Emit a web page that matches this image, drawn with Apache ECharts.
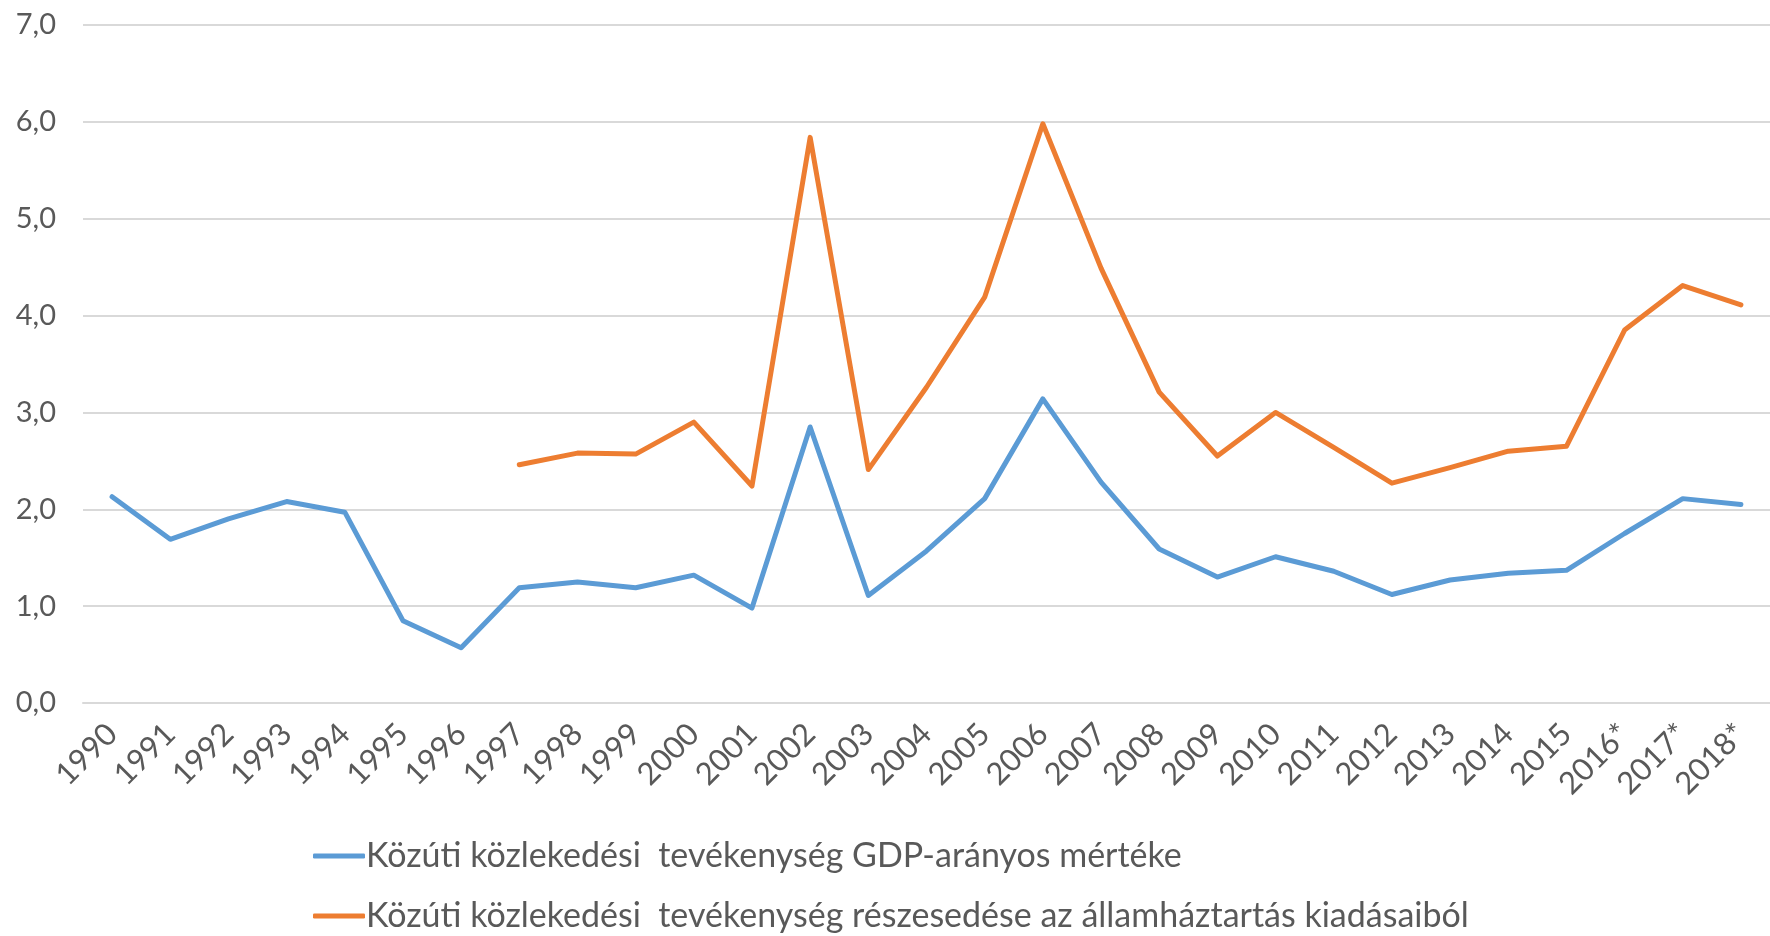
<!DOCTYPE html>
<html>
<head>
<meta charset="utf-8">
<script src="https://cdn.jsdelivr.net/npm/echarts@6/dist/echarts.min.js"></script>
<style>
  html, body { margin: 0; padding: 0; background: #fff; }
  #chart { width: 1770px; height: 936px; }
</style>
</head>
<body>
<div id="chart"></div>
<script>
// categories (years), * = estimate
var years = ['1990', '1991', '1992', '1993', '1994', '1995', '1996', '1997', '1998', '1999',
  '2000', '2001', '2002', '2003', '2004', '2005', '2006', '2007', '2008', '2009',
  '2010', '2011', '2012', '2013', '2014', '2015', '2016*', '2017*', '2018*'];

// GDP-arányos mérték
var gdpShare = [2.13, 1.69, 1.90, 2.08, 1.97, 0.85, 0.57, 1.19, 1.25, 1.19,
  1.32, 0.98, 2.85, 1.11, 1.57, 2.11, 3.14, 2.28, 1.59, 1.30,
  1.51, 1.36, 1.12, 1.27, 1.34, 1.37, 1.75, 2.11, 2.05];

// részesedés az államháztartás kiadásaiból (1997-től)
var budgetShare = [null, null, null, null, null, null, null, 2.46, 2.58, 2.57,
  2.90, 2.24, 5.84, 2.41, 3.26, 4.19, 5.98, 4.49, 3.21, 2.55,
  3.00, 2.64, 2.27, 2.43, 2.60, 2.65, 3.85, 4.31, 4.11];

var seriesNames = [
  'Közúti közlekedési  tevékenység GDP-arányos mértéke',
  'Közúti közlekedési  tevékenység részesedése az államháztartás kiadásaiból'
];

var font = 'Lato, "Open Sans", sans-serif';
var textColor = '#595959';

function legendFor(name, top) {
  return {
    left: 308,
    top: top,
    itemWidth: 52,
    itemHeight: 5,
    icon: 'roundRect',
    textStyle: { fontFamily: font, fontSize: 34, color: textColor, padding: [0, 0, 0, -4] },
    data: [name]
  };
}

var chart = echarts.init(document.getElementById('chart'));
chart.setOption({
  animation: false,
  backgroundColor: '#fff',
  textStyle: { fontFamily: font },
  grid: { left: 83, right: -10, top: 25, bottom: 233, containLabel: false },
  legend: [
    legendFor(seriesNames[0], 834),
    legendFor(seriesNames[1], 894)
  ],
  xAxis: {
    type: 'category',
    data: years,
    boundaryGap: true,
    axisLine: { show: true, lineStyle: { color: '#d9d9d9', width: 2 } },
    axisTick: { show: false },
    axisLabel: {
      rotate: 45,
      margin: 26,
      interval: 0,
      fontFamily: font,
      fontSize: 31,
      color: textColor
    }
  },
  yAxis: {
    type: 'value',
    min: 0,
    max: 7,
    interval: 1,
    axisLine: { show: false },
    axisTick: { show: false },
    splitLine: { lineStyle: { color: '#d9d9d9', width: 2 } },
    axisLabel: {
      margin: 27,
      fontFamily: font,
      fontSize: 29,
      color: textColor,
      formatter: function (v) { return v.toFixed(1).replace('.', ','); }
    }
  },
  series: [
    {
      name: seriesNames[0],
      type: 'line',
      data: gdpShare,
      symbol: 'none',
      color: '#5b9bd5',
      lineStyle: { width: 5, color: '#5b9bd5', cap: 'round', join: 'round' }
    },
    {
      name: seriesNames[1],
      type: 'line',
      data: budgetShare,
      symbol: 'none',
      color: '#ed7d31',
      lineStyle: { width: 5, color: '#ed7d31', cap: 'round', join: 'round' }
    }
  ]
});
</script>
</body>
</html>
